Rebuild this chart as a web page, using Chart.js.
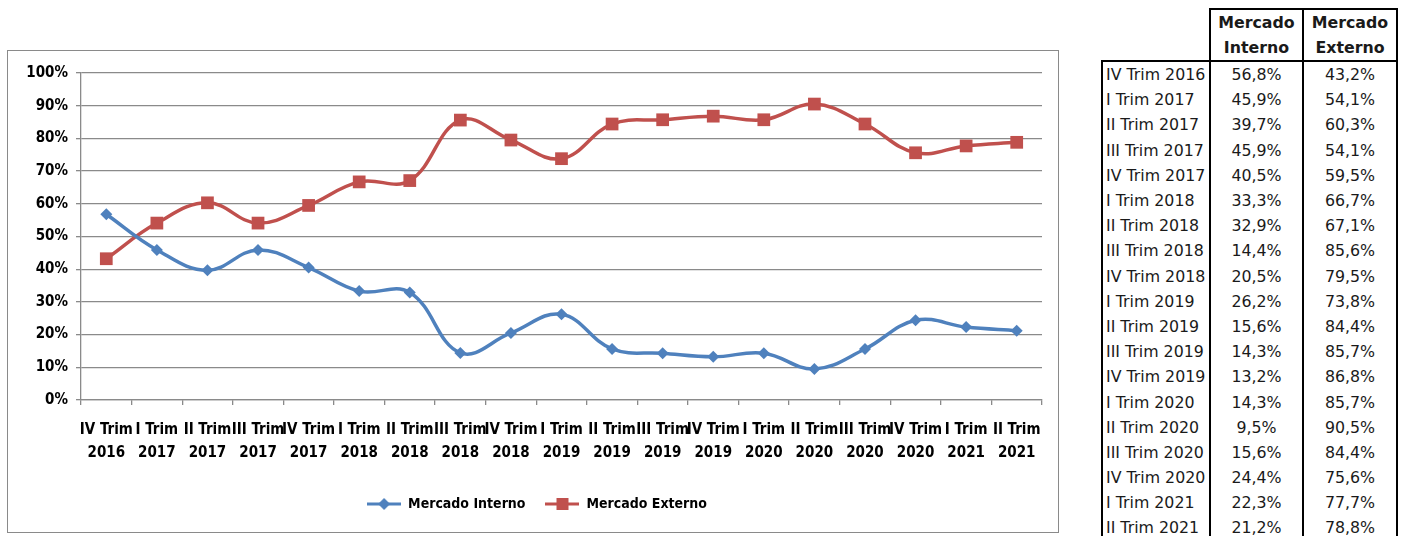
<!DOCTYPE html>
<html><head><meta charset="utf-8">
<script src="https://cdn.jsdelivr.net/npm/chart.js@4/dist/chart.umd.min.js"></script>
<style>
body{margin:0;background:#fff;width:1401px;height:536px;overflow:hidden;position:relative;font-family:"DejaVu Sans",sans-serif}
#box{position:absolute;left:7px;top:50px;width:1052px;height:483px;border:1px solid #8a8a8a;box-sizing:border-box}
#c{position:absolute;left:8px;top:51px}
#tbl{position:absolute;left:1101px;top:8px;border-collapse:collapse;table-layout:fixed;width:295px;font-size:15.8px;color:#1a1a1a}
#tbl td{padding:0;white-space:nowrap;overflow:visible}
#tbl td.h{border:2px solid #000;font-weight:bold;text-align:center;line-height:25px;height:50px}
#tbl td.e{border:none}
#tbl tr.r td{height:25.2px;line-height:25px}
#tbl td.l{border-left:2px solid #000;text-align:left;padding-left:3px}
#tbl td.v{border-left:2px solid #000;border-right:2px solid #000;text-align:center}
#tbl tr.first td{border-top:2px solid #000}
</style></head>
<body>
<div id="box"></div>
<canvas id="c" width="1051" height="481"></canvas>
<table id="tbl"><colgroup><col style="width:108px"><col style="width:93px"><col style="width:94px"></colgroup><tbody id="tb"></tbody></table>
<script>
const categories = ["IV Trim 2016","I Trim 2017","II Trim 2017","III Trim 2017","IV Trim 2017","I Trim 2018","II Trim 2018","III Trim 2018","IV Trim 2018","I Trim 2019","II Trim 2019","III Trim 2019","IV Trim 2019","I Trim 2020","II Trim 2020","III Trim 2020","IV Trim 2020","I Trim 2021","II Trim 2021"];
const mercadoInterno = [56.8,45.9,39.7,45.9,40.5,33.3,32.9,14.4,20.5,26.2,15.6,14.3,13.2,14.3,9.5,15.6,24.4,22.3,21.2];
const mercadoExterno = [43.2,54.1,60.3,54.1,59.5,66.7,67.1,85.6,79.5,73.8,84.4,85.7,86.8,85.7,90.5,84.4,75.6,77.7,78.8];
const seriesNames = ["Mercado Interno","Mercado Externo"];
const headerInterno = ["Mercado","Interno"];
const headerExterno = ["Mercado","Externo"];

const BLUE = "#4F81BD", RED = "#C0504D", GRID = "#8a8a8a";
const FONT = "'DejaVu Sans Condensed','Liberation Sans Narrow',sans-serif";

// table
const fmt = v => v.toFixed(1).replace('.', ',') + '%';
let html = '<tr><td class="e"></td><td class="h">' + headerInterno.join('<br>') + '</td><td class="h">' + headerExterno.join('<br>') + '</td></tr>';
categories.forEach((c, i) => {
  html += '<tr class="r' + (i === 0 ? ' first' : '') + '"><td class="l">' + c + '</td><td class="v">' + fmt(mercadoInterno[i]) + '</td><td class="v">' + fmt(mercadoExterno[i]) + '</td></tr>';
});
document.getElementById('tb').innerHTML = html;

// legend icons
function legendIcon(color, shape) {
  const cv = document.createElement('canvas');
  cv.width = 34; cv.height = 16;
  const g = cv.getContext('2d');
  g.strokeStyle = color; g.lineWidth = 3;
  g.beginPath(); g.moveTo(0, 8); g.lineTo(34, 8); g.stroke();
  g.fillStyle = color;
  g.beginPath();
  if (shape === 'diamond') { g.moveTo(17, 2); g.lineTo(23, 8); g.lineTo(17, 14); g.lineTo(11, 8); g.closePath(); }
  else { g.rect(11, 2, 12, 12); }
  g.fill();
  return cv;
}
const icons = [legendIcon(BLUE, 'diamond'), legendIcon(RED, 'square')];

const legendShift = {
  id: 'legendShift',
  afterLayout(chart) { if (chart.legend) { chart.legend.left += 12; chart.legend.right += 12; } }
};

new Chart(document.getElementById('c'), {
  type: 'line',
  data: {
    labels: categories.map(c => { const p = c.split(' '); return [p[0] + ' ' + p[1], p[2]]; }),
    datasets: [
      { label: seriesNames[0], data: mercadoInterno, borderColor: BLUE, backgroundColor: BLUE, borderWidth: 3.5,
        pointStyle: 'rectRot', pointRadius: 6, pointBorderWidth: 0, tension: 0.4, fill: false },
      { label: seriesNames[1], data: mercadoExterno, borderColor: RED, backgroundColor: RED, borderWidth: 3.5,
        pointStyle: 'rect', pointRadius: 9, pointBorderWidth: 0, tension: 0.4, fill: false }
    ]
  },
  plugins: [legendShift],
  options: {
    responsive: false, animation: false, maintainAspectRatio: false,
    layout: { padding: { left: 0, right: 17, top: 22, bottom: 11 } },
    plugins: {
      tooltip: { enabled: false },
      legend: {
        position: 'bottom',
        labels: {
          usePointStyle: true, pointStyleWidth: 34, padding: 20,
          color: '#000', font: { family: FONT, size: 14, weight: 'bold' },
          generateLabels: (chart) => Chart.defaults.plugins.legend.labels.generateLabels(chart).map((l, i) => Object.assign(l, { pointStyle: icons[i] }))
        }
      }
    },
    scales: {
      x: {
        offset: true,
        grid: { offset: true, drawOnChartArea: false, drawTicks: true, tickLength: 5, color: GRID, lineWidth: 1.3 },
        border: { color: GRID, width: 1.3 },
        ticks: { autoSkip: false, maxRotation: 0, minRotation: 0, padding: 14, color: '#000',
          font: { family: FONT, size: 15, weight: 'bold', lineHeight: 1.53 } },
        afterFit: (s) => { s.height = 77; }
      },
      y: {
        min: 0, max: 100,
        grid: { color: GRID, lineWidth: 1.3, tickLength: 5 },
        border: { color: GRID, width: 1.3 },
        ticks: { stepSize: 10, padding: 8, color: '#000', callback: v => v + '%',
          font: { family: FONT, size: 15, weight: 'bold' } },
        afterFit: (s) => { s.width = 73; }
      }
    }
  }
});
</script>
</body></html>
